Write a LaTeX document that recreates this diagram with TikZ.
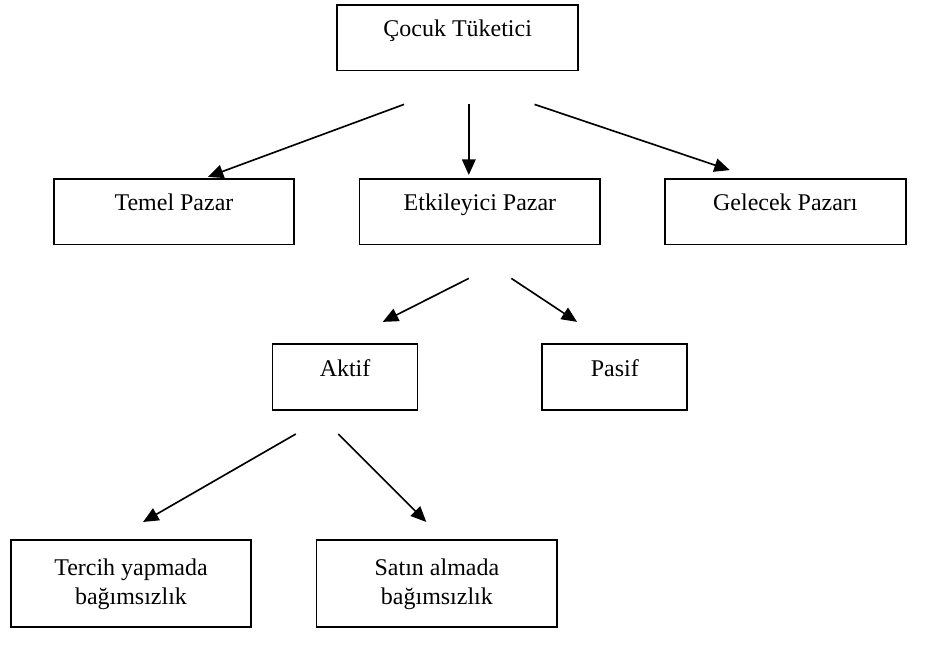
\documentclass[tikz,border=0pt]{standalone}
\usepackage{fontspec}
\setmainfont{Liberation Serif}
\usetikzlibrary{arrows.meta}
\begin{document}
\begin{tikzpicture}[x=1pt,y=-1pt,
  box/.style={draw, line width=1.8pt, inner sep=0pt, minimum width=249pt,
    text height=33pt, text depth=35pt, align=center,
    font=\fontsize{24.8}{30}\selectfont},
  smallbox/.style={box, minimum width=150pt},
  tallbox/.style={draw, line width=1.8pt, inner sep=0pt, minimum width=249pt,
    minimum height=90pt, align=center, font=\fontsize{24.8}{30}\selectfont},
  link/.style={line width=1.7pt, -{Triangle[length=16pt,width=14pt]}}]
\useasboundingbox (0,0) rectangle (958,675);

% boxes
\node[box] (root) at (473.5,39) {Çocuk Tüketici};
\node[box] (temel) at (180,219) {Temel Pazar};
\node[box] (etki) at (496.5,219) {Etkileyici Pazar};
\node[box] (gelecek) at (812.5,219) {Gelecek Pazarı};
\node[smallbox] (aktif) at (357,390) {Aktif};
\node[smallbox] (pasif) at (636,390) {Pasif};
\node[tallbox] (tercih) at (135.5,604) {Tercih yapmada\\bağımsızlık};
\node[tallbox] (satin) at (452,604) {Satın almada\\bağımsızlık};

% free-standing arrow end points
\coordinate (rt0) at (418,108);  \coordinate (rt1) at (215,183);
\coordinate (re0) at (485,108);  \coordinate (re1) at (485,181);
\coordinate (rg0) at (553,108);  \coordinate (rg1) at (755,176);
\coordinate (ea0) at (485,288);  \coordinate (ea1) at (396,333);
\coordinate (ep0) at (529,288);  \coordinate (ep1) at (597,333);
\coordinate (at0) at (306,449);  \coordinate (at1) at (148,540);
\coordinate (as0) at (350,449);  \coordinate (as1) at (441,540);

% arrows
\draw[link] (rt0) -- (rt1);
\draw[link] (re0) -- (re1);
\draw[link] (rg0) -- (rg1);
\draw[link] (ea0) -- (ea1);
\draw[link] (ep0) -- (ep1);
\draw[link] (at0) -- (at1);
\draw[link] (as0) -- (as1);
\end{tikzpicture}
\end{document}
